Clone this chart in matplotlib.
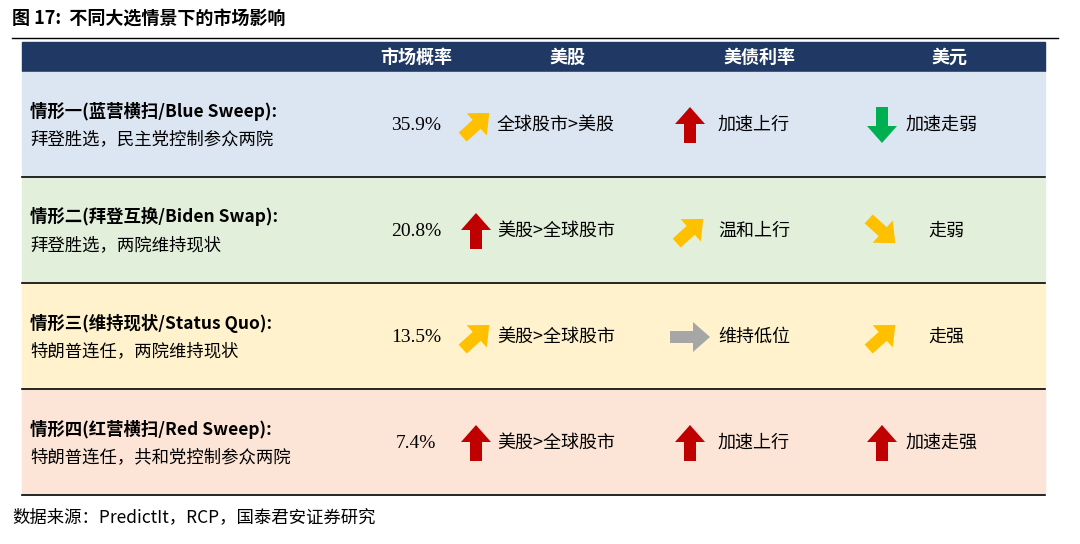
import matplotlib
matplotlib.use("Agg")
import matplotlib.pyplot as plt
from matplotlib.patches import Rectangle, FancyArrow

plt.rcParams['font.family'] = ['Noto Sans CJK SC', 'DejaVu Sans']

title = "图 17:  不同大选情景下的市场影响"
headers = ["市场概率", "美股", "美债利率", "美元"]
scenarios = ["情形一(蓝营横扫/Blue Sweep):", "情形二(拜登互换/Biden Swap):",
             "情形三(维持现状/Status Quo):", "情形四(红营横扫/Red Sweep):"]
descriptions = ["拜登胜选，民主党控制参众两院", "拜登胜选，两院维持现状",
                "特朗普连任，两院维持现状", "特朗普连任，共和党控制参众两院"]
probabilities = ["35.9%", "20.8%", "13.5%", "7.4%"]
stock_text = ["全球股市>美股", "美股>全球股市", "美股>全球股市", "美股>全球股市"]
stock_dir = ["ur", "up", "ur", "up"]
bond_text = ["加速上行", "温和上行", "维持低位", "加速上行"]
bond_dir = ["up", "ur", "right", "up"]
dollar_text = ["加速走弱", "走弱", "走强", "加速走强"]
dollar_dir = ["down", "dr", "ur", "up"]
source = "数据来源：PredictIt，RCP，国泰君安证券研究"

row_colors = ["#DCE6F2", "#E2EFDA", "#FFF2CC", "#FCE4D6"]
arrow_colors = {"ur": "#FFC000", "dr": "#FFC000", "up": "#C00000",
                "down": "#00B050", "right": "#A6A6A6"}

fig = plt.figure(figsize=(10.8, 5.44), dpi=100)
ax = fig.add_axes([0, 0, 1, 1])
ax.set_xlim(0, 1080)
ax.set_ylim(544, 0)
ax.axis("off")

ax.text(12, 19, title, fontsize=13, fontweight="bold", va="center", ha="left")
ax.plot([12, 1058], [38, 38], color="black", lw=1)

ax.add_patch(Rectangle((22, 42), 1023, 29, color="#1F3864"))
hx = [416, 567, 760, 950]
for h, x in zip(headers, hx):
    ax.text(x, 57, h, color="white", fontsize=13, fontweight="bold", ha="center", va="center")

def draw_arrow(cx, cy, d):
    c = arrow_colors[d]
    L = 36
    vec = {"up": (0, -1), "down": (0, 1), "right": (1, 0),
           "ur": (0.74, -0.67), "dr": (0.74, 0.67)}[d]
    dx, dy = vec
    if d == "right":
        L = 40
    x0, y0 = cx - dx * L / 2, cy - dy * L / 2
    ax.add_patch(FancyArrow(x0, y0, dx * L, dy * L, width=12, head_width=30,
                            head_length=17, length_includes_head=True,
                            color=c, lw=0))

row_top = 72
row_h = 106
for i in range(4):
    y0 = row_top + i * row_h
    ax.add_patch(Rectangle((22, y0), 1023, row_h - 3, color=row_colors[i]))
    ax.plot([22, 1045], [y0 + row_h - 1.5, y0 + row_h - 1.5], color="black", lw=1.2)
    cy = y0 + 53
    ax.text(30, cy - 14, scenarios[i], fontsize=12.5, fontweight="bold", va="center")
    ax.text(30, cy + 14, descriptions[i], fontsize=12.5, va="center")
    ax.text(416, cy, probabilities[i], fontsize=14, va="center", ha="center",
            family="Liberation Serif")
    draw_arrow(476, cy, stock_dir[i])
    ax.text(497, cy, stock_text[i], fontsize=13, va="center")
    draw_arrow(690, cy, bond_dir[i])
    ax.text(718, cy, bond_text[i], fontsize=13, va="center")
    draw_arrow(882, cy, dollar_dir[i])
    ax.text(906 if len(dollar_text[i]) > 2 else 928, cy, dollar_text[i], fontsize=13, va="center")

ax.text(12, 517, source, fontsize=12.5, va="center")

fig.savefig("out.png", dpi=100)
